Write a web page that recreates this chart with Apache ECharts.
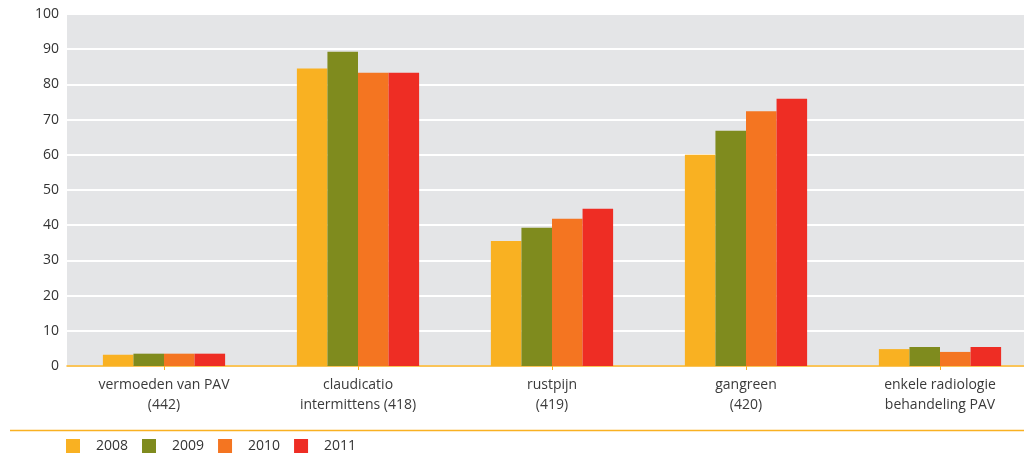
<!DOCTYPE html>
<html>
<head>
<meta charset="utf-8">
<script src="https://cdn.jsdelivr.net/npm/echarts@6/dist/echarts.min.js"></script>
<style>
  html, body { margin: 0; padding: 0; background: #ffffff; overflow: hidden; width: 1024px; height: 459px; }
  /* The plot runs past the right edge of the page, so the canvas is wider than the view */
  #chart { width: 1037px; height: 459px; }
</style>
</head>
<body>
<div id="chart"></div>
<script>
// Categories (group size in brackets)
const categories = [
  'vermoeden van PAV\n(442)',
  'claudicatio\nintermittens (418)',
  'rustpijn\n(419)',
  'gangreen\n(420)',
  'enkele radiologie\nbehandeling PAV'
];
const years = ['2008', '2009', '2010', '2011'];

// Percentages per year
const values2008 = [3.2, 84.5, 35.5, 60.0, 4.8];
const values2009 = [3.5, 89.3, 39.3, 66.8, 5.4];
const values2010 = [3.5, 83.3, 41.8, 72.4, 4.0];
const values2011 = [3.5, 83.3, 44.7, 75.9, 5.4];

const yTicks = [0, 10, 20, 30, 40, 50, 60, 70, 80, 90, 100];

const colors = ['#F9B122', '#7F8B1E', '#F47521', '#EE2D24'];
const fontFamily = '"Open Sans", "Noto Sans", sans-serif';

const seriesData = [values2008, values2009, values2010, values2011];

const chart = echarts.init(document.getElementById('chart'), null, { renderer: 'canvas' });

chart.setOption({
  animation: false,
  color: colors,
  grid: {
    left: 67,
    top: 14,
    right: 0,
    height: 352,
    show: true,
    backgroundColor: '#E4E5E7',
    borderWidth: 0,
    containLabel: false
  },
  legend: {
    data: years,
    left: 66,
    top: 439,
    padding: 0,
    itemWidth: 14,
    itemHeight: 14,
    itemGap: 14,
    icon: 'rect',
    textStyle: {
      fontFamily: fontFamily,
      fontSize: 14,
      color: '#333333',
      padding: [0, 0, 0, 11]
    }
  },
  xAxis: {
    type: 'category',
    data: categories,
    axisLine: { show: true, lineStyle: { color: '#F9B122', width: 1.5 } },
    axisTick: { show: true, alignWithLabel: true, length: 4, lineStyle: { color: '#F9B122' } },
    axisLabel: {
      fontFamily: fontFamily,
      fontSize: 14,
      color: '#3a3a3a',
      lineHeight: 20,
      margin: 9,
      interval: 0
    }
  },
  yAxis: {
    type: 'value',
    min: yTicks[0],
    max: yTicks[yTicks.length - 1],
    interval: 10,
    axisLine: { show: false },
    axisTick: { show: false },
    splitLine: { show: true, lineStyle: { color: '#ffffff', width: 2 } },
    axisLabel: {
      fontFamily: fontFamily,
      fontSize: 14,
      color: '#333333',
      margin: 8
    }
  },
  graphic: [{
    type: 'line',
    shape: { x1: 10, y1: 430.5, x2: 1037, y2: 430.5 },
    style: { stroke: '#F9B122', lineWidth: 1.5 }
  }],
  series: years.map((y, i) => ({
    name: y,
    type: 'bar',
    data: seriesData[i],
    barGap: '0%',
    barCategoryGap: '37%',
    itemStyle: { color: colors[i] }
  }))
});
</script>
</body>
</html>
